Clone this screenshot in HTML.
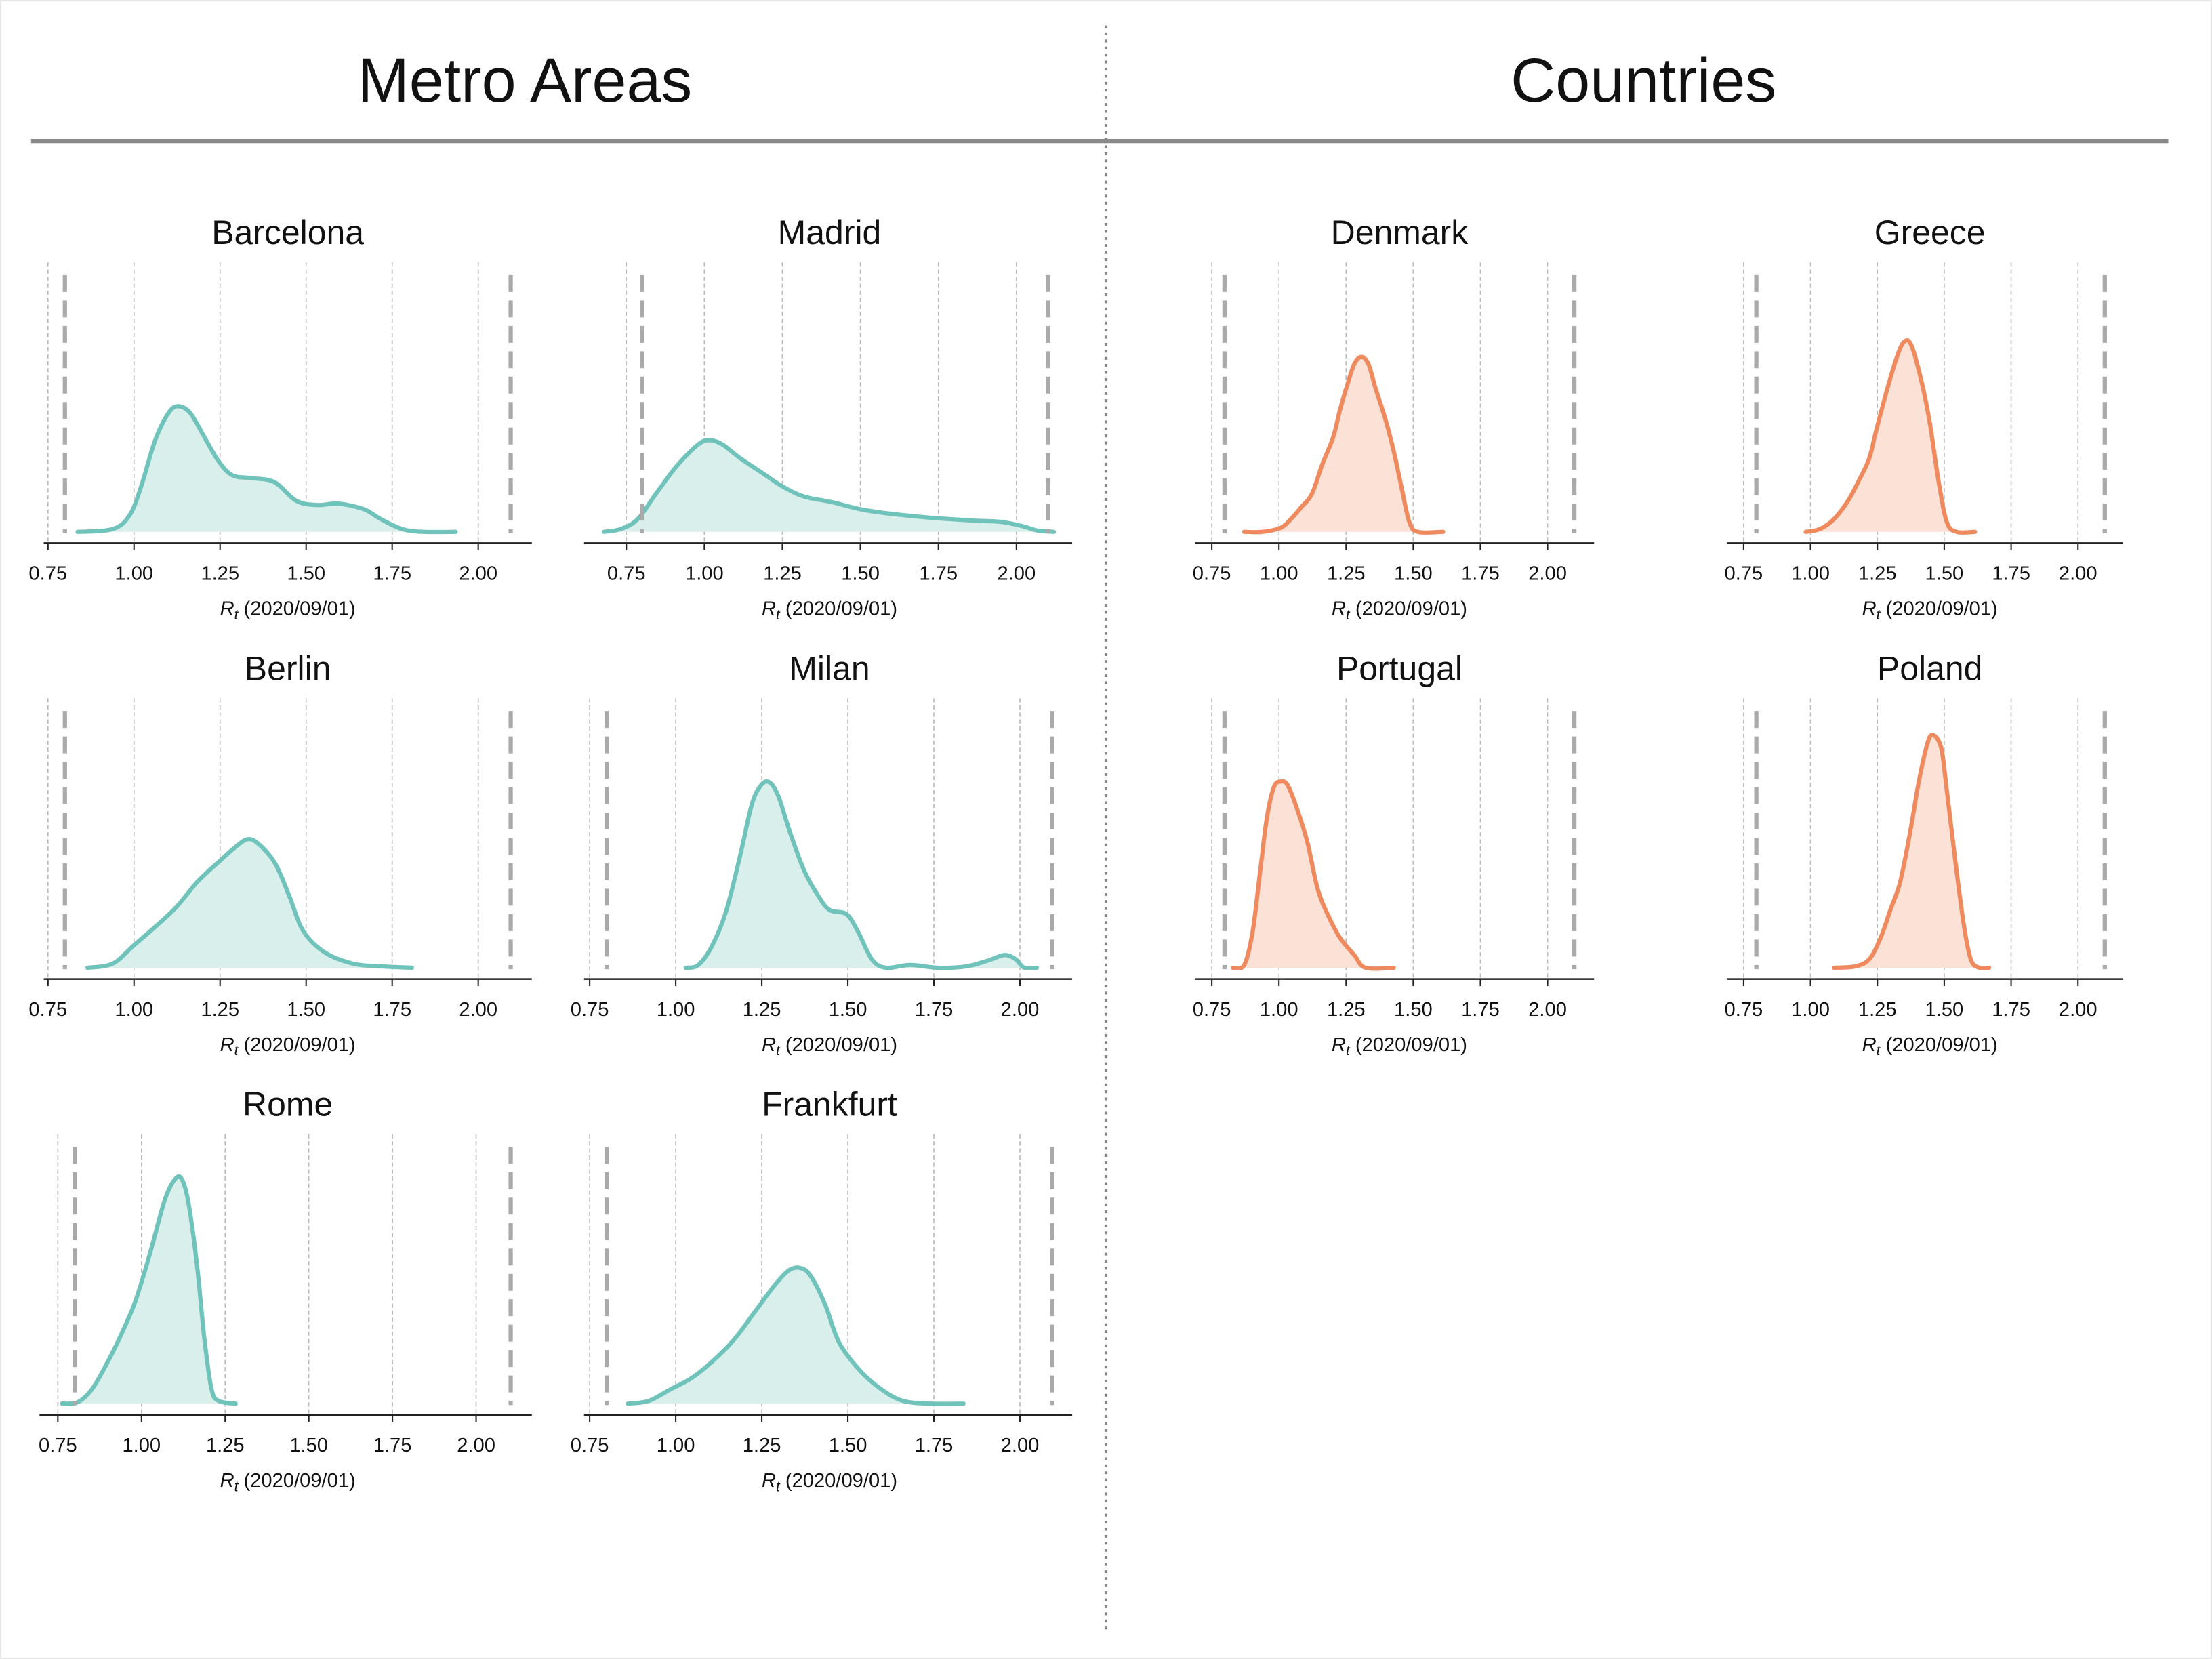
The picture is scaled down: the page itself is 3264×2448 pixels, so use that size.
<!DOCTYPE html>
<html><head><meta charset="utf-8"><style>
html,body{margin:0;padding:0;background:#fff}
svg{display:block}
text{font-family:"Liberation Sans",sans-serif;fill:#111}
</style></head><body>
<svg id="s" width="3264" height="2448" viewBox="0 0 1568 1176" xmlns="http://www.w3.org/2000/svg">
<rect x="0.5" y="0.5" width="1567" height="1175" fill="#fff" stroke="#e6e6e6" stroke-width="1"/>
<text x="372" y="72" font-size="44" text-anchor="middle">Metro Areas</text>
<text x="1165" y="72" font-size="44" text-anchor="middle">Countries</text>
<line x1="22" y1="100" x2="1537" y2="100" stroke="#888" stroke-width="3"/>
<line x1="784" y1="18" x2="784" y2="1158" stroke="#888" stroke-width="2" stroke-dasharray="2,3"/>
<g id="g"></g>
</svg>
<script>
var P=[
 {t:"Barcelona",x75:34,d:61,ax:[31,377],dl:[46,362],row:0,c:0,cx:204,pts:[[55,377],[80,375],[92,365],[100,345],[110,312],[120,292],[127,288],[135,293],[145,310],[155,327],[165,337],[180,339],[195,342],[210,355],[225,358],[240,357],[258,361],[270,368],[285,375],[300,377],[323,377]]},
 {t:"Madrid",x75:444,d:55.3,ax:[414,760],dl:[455,743],row:0,c:0,cx:588,pts:[[428,377],[440,375],[452,368],[465,350],[480,330],[495,315],[503,312],[512,315],[525,325],[540,335],[555,345],[570,352],[590,356],[610,361],[630,364],[660,367],[690,369],[710,370],[725,373],[735,376],[747,377]]},
 {t:"Berlin",x75:34,d:61,ax:[31,377],dl:[46,362],row:1,c:0,cx:204,pts:[[62,686],[80,683],[95,670],[110,657],[125,643],[140,625],[155,611],[165,602],[175,595],[183,598],[195,612],[205,635],[215,660],[230,675],[250,683],[270,685],[292,686]]},
 {t:"Milan",x75:418,d:61,ax:[414,760],dl:[430,746],row:1,c:0,cx:588,pts:[[486,686],[495,684],[505,670],[515,645],[525,605],[533,570],[540,556],[546,555],[552,565],[560,590],[570,617],[580,635],[588,645],[600,648],[608,660],[618,680],[628,686],[645,684],[665,686],[685,685],[700,681],[712,677],[720,680],[726,686],[735,686]]},
 {t:"Rome",x75:41,d:59.3,ax:[28,377],dl:[53,362],row:2,c:0,cx:204,pts:[[44,995],[55,994],[65,985],[75,968],[85,948],[95,925],[103,900],[110,875],[117,850],[124,836],[129,836],[134,855],[140,900],[145,950],[150,985],[155,993],[167,995]]},
 {t:"Frankfurt",x75:418,d:61,ax:[414,760],dl:[430,746],row:2,c:0,cx:588,pts:[[445,995],[460,993],[475,985],[490,977],[505,965],[520,950],[535,930],[550,910],[560,900],[568,899],[575,905],[585,925],[595,952],[610,972],[625,985],[640,993],[660,995],[683,995]]},
 {t:"Denmark",x75:859,d:47.6,ax:[847,1130],dl:[868,1116],row:0,c:1,cx:992,pts:[[882,377],[895,377],[908,374],[915,368],[922,360],[930,350],[937,330],[945,310],[950,290],[955,273],[960,258],[965,253],[970,258],[975,275],[982,297],[988,320],[994,348],[999,370],[1005,377],[1023,377]]},
 {t:"Greece",x75:1236,d:47.4,ax:[1224,1505],dl:[1245,1492],row:0,c:1,cx:1368,pts:[[1280,377],[1290,375],[1300,368],[1310,355],[1318,340],[1325,325],[1330,305],[1338,275],[1345,252],[1350,242],[1355,245],[1362,270],[1368,300],[1374,340],[1380,370],[1387,377],[1400,377]]},
 {t:"Portugal",x75:859,d:47.6,ax:[847,1130],dl:[868,1116],row:1,c:1,cx:992,pts:[[874,686],[882,684],[888,660],[893,620],[898,580],[903,558],[908,554],[913,557],[920,575],[927,598],[934,630],[942,650],[950,665],[960,677],[968,686],[988,686]]},
 {t:"Poland",x75:1236,d:47.4,ax:[1224,1505],dl:[1245,1492],row:1,c:1,cx:1368,pts:[[1300,686],[1315,685],[1325,680],[1333,665],[1340,645],[1347,625],[1354,590],[1360,555],[1366,528],[1370,521],[1376,530],[1380,560],[1386,610],[1392,655],[1397,680],[1403,686],[1410,686]]}
];
var cols=[["#6fc3bb","#d9efec"],["#ef8a5e","#fbe1d6"]];
function smooth(p){var s="M"+p[0][0]+","+p[0][1];for(var i=0;i<p.length-1;i++){var p0=p[i-1]||p[i],p1=p[i],p2=p[i+1],p3=p[i+2]||p2;
var c1x=p1[0]+(p2[0]-p0[0])/6,c1y=p1[1]+(p2[1]-p0[1])/6,c2x=p2[0]-(p3[0]-p1[0])/6,c2y=p2[1]-(p3[1]-p1[1])/6;
s+=" C"+c1x.toFixed(1)+","+c1y.toFixed(1)+" "+c2x.toFixed(1)+","+c2y.toFixed(1)+" "+p2[0]+","+p2[1];}return s;}
var h="";
P.forEach(function(p){var o=p.row*309,ay=385+o,base=377+o;
 h+='<text x="'+p.cx+'" y="'+(173+o)+'" font-size="24" text-anchor="middle">'+p.t+'</text>';
 var labs=["0.75","1.00","1.25","1.50","1.75","2.00"];
 for(var i=0;i<6;i++){var x=p.x75+i*p.d;
  h+='<line x1="'+x+'" y1="'+(186+o)+'" x2="'+x+'" y2="'+ay+'" stroke="#bbb" stroke-width="0.8" stroke-dasharray="3,2"/>';
  h+='<line x1="'+x+'" y1="'+ay+'" x2="'+x+'" y2="'+(ay+5)+'" stroke="#222" stroke-width="1"/>';
  h+='<text x="'+x+'" y="'+(411+o)+'" font-size="14" text-anchor="middle">'+labs[i]+'</text>';}
 var pts=p.pts.map(function(q){return [q[0],q[1]-377+base-(p.row?0:0)].map(function(v,j){return j?q[1]:v;});});
 var d=smooth(p.pts);
 var c=cols[p.c];
 h+='<path d="'+d+' L'+p.pts[p.pts.length-1][0]+','+base+' L'+p.pts[0][0]+','+base+' Z" fill="'+c[1]+'"/>';
 h+='<path d="'+d+'" fill="none" stroke="'+c[0]+'" stroke-width="3" stroke-linejoin="round" stroke-linecap="round"/>';
 p.dl.forEach(function(x){h+='<line x1="'+x+'" y1="'+(195+o)+'" x2="'+x+'" y2="'+(378+o)+'" stroke="#aaa" stroke-width="3" stroke-dasharray="12,6"/>';});
 h+='<line x1="'+p.ax[0]+'" y1="'+ay+'" x2="'+p.ax[1]+'" y2="'+ay+'" stroke="#222" stroke-width="1.2"/>';
 h+='<text x="'+p.cx+'" y="'+(436+o)+'" font-size="14" text-anchor="middle"><tspan font-style="italic">R</tspan><tspan font-style="italic" font-size="10" dy="3">t</tspan><tspan dy="-3"> (2020/09/01)</tspan></text>';
});
document.getElementById("g").innerHTML=h;
</script>
</body></html>
